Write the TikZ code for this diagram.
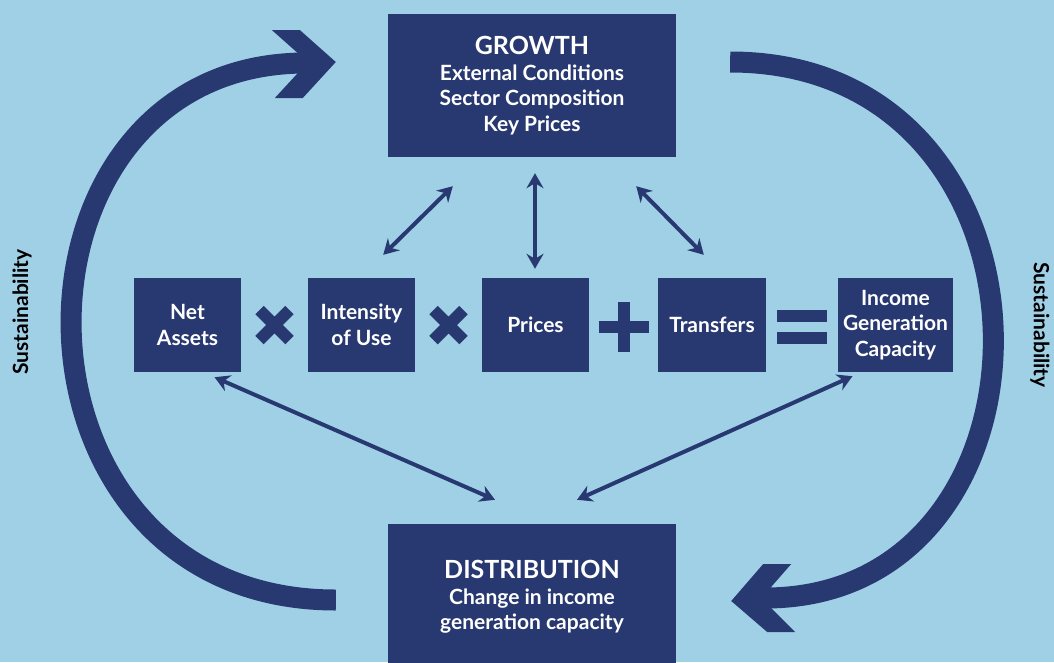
\documentclass[tikz,border=0pt]{standalone}
\usepackage{fontspec}
\setmainfont{Lato}
\usetikzlibrary{arrows.meta,calc}

\definecolor{navy}{RGB}{40,57,113}
\definecolor{skyback}{RGB}{160,208,230}

\tikzset{
  block/.style={fill=navy,text=white,align=center,inner sep=0pt,
    font=\fontsize{21}{25.5}\selectfont\bfseries},
  link/.style={draw=navy,line width=4pt,
    arrows={Stealth[length=15pt,width=17pt,inset=5pt]-Stealth[length=15pt,width=17pt,inset=5pt]}},
  loopline/.style={draw=navy,line width=21pt,line cap=butt},
  op/.style={draw=navy,line width=12pt,line cap=butt},
  sidelabel/.style={text=black,font=\fontsize{21}{24}\selectfont\bfseries},
}

\begin{document}
\begin{tikzpicture}[x=1pt,y=-1pt]
% 1054 x 662 canvas
\fill[skyback] (0,0) rectangle (1054,662);
\useasboundingbox (0,0) rectangle (1054,662);

% top and bottom blocks
\node[block,minimum width=288pt,minimum height=143pt] (growth) at (532,85.5)
  {{\fontsize{25}{26}\selectfont GROWTH}\\External Conditions\\Sector Composition\\Key Prices};
\node[block,minimum width=288pt,minimum height=146pt] (dist) at (532,597)
  {{\fontsize{25}{26}\selectfont DISTRIBUTION}\\Change in income\\generation capacity};

% middle row
\node[block,minimum width=107pt,minimum height=94pt] (netassets) at (187.5,325) {Net\\Assets};
\node[block,minimum width=107pt,minimum height=94pt] (intensity) at (361.5,325) {Intensity\\of Use};
\node[block,minimum width=107pt,minimum height=94pt] (prices) at (535.5,325) {Prices};
\node[block,minimum width=108pt,minimum height=94pt] (transfers) at (712,325) {Transfers};
\node[block,minimum width=115pt,minimum height=94pt] (income) at (895.5,325) {Income\\Generation\\Capacity};

% operators
\coordinate (opA) at ($(netassets.east)!0.5!(intensity.west)$);
\coordinate (opB) at ($(intensity.east)!0.5!(prices.west)$);
\coordinate (opC) at ([yshift=-2pt]$(prices.east)!0.5!(transfers.west)$);
\coordinate (opD) at ([yshift=-2pt]$(transfers.east)!0.5!(income.west)$);
\foreach \o in {opA,opB}
  \draw[op] ([shift={(-15,-15)}]\o) -- ([shift={(15,15)}]\o)
            ([shift={(-15,15)}]\o) -- ([shift={(15,-15)}]\o);
\draw[op] ([shift={(-25,0)}]opC) -- ([shift={(25,0)}]opC)
          ([shift={(0,-25)}]opC) -- ([shift={(0,25)}]opC);
\draw[op] ([shift={(-25,-11)}]opD) -- ([shift={(25,-11)}]opD)
          ([shift={(-25,11)}]opD) -- ([shift={(25,11)}]opD);

% links
\draw[link] ([shift={(-32,-23)}]intensity.north east) -- ([shift={(65,29)}]growth.south west);
\draw[link] ([shift={(3,16)}]growth.south) -- ([shift={(-0.5,-9)}]prices.north);
\draw[link] ([shift={(-40,29)}]growth.south east) -- ([shift={(46,-23)}]transfers.north west);
\draw[link] ([shift={(27,5)}]netassets.south) -- ([shift={(-37,-24)}]dist.north);
\draw[link] ([shift={(-43,4)}]income.south) -- ([shift={(45,-24)}]dist.north);

% big loops
\coordinate (tipL) at ([shift={(-52,-23.5)}]growth.west);
\coordinate (tipR) at ([shift={(55,4)}]dist.east);
\draw[loopline] ([shift={(-52,3)}]dist.west) .. controls (-12,600) and (-12,63) .. ([shift={(-30,1)}]tipL);
\fill[navy] (tipL) -- ++(-36,-32) -- ++(-28,0) -- ++(27,24) -- ++(0,18)
  -- ++(-24,26) -- ++(28,0) -- cycle;
\draw[loopline] ([shift={(54,-23.5)}]growth.east) .. controls (1075,62) and (1075,598) .. ([shift={(34,-3)}]tipR);
\fill[navy] (tipR) -- ++(32,-37) -- ++(28,0) -- ++(-21,24) -- ++(0,19)
  -- ++(25,25) -- ++(-28,0) -- cycle;

% side labels
\node[sidelabel,rotate=90] (sustL) at (22,312) {Sustainability};
\node[sidelabel,rotate=-90] (sustR) at (1040,325) {Sustainability};
\end{tikzpicture}
\end{document}
